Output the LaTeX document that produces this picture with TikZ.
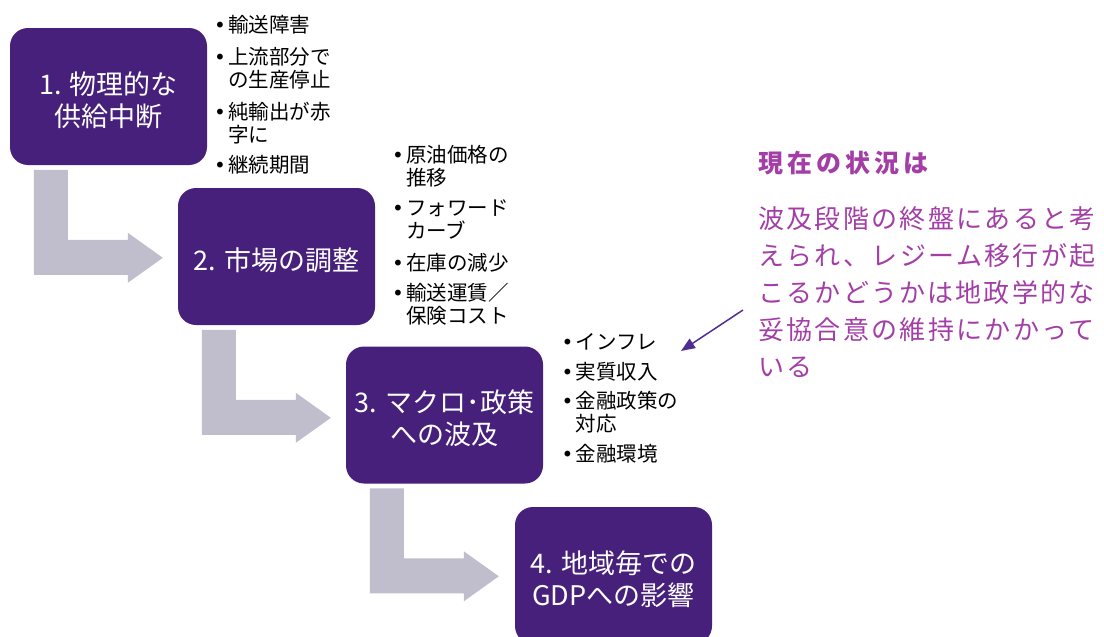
\documentclass[tikz,border=0pt]{standalone}
\usepackage{fontspec}
\setmainfont{Noto Sans CJK JP}
\newfontfamily\dejavu{DejaVu Sans}
\usetikzlibrary{arrows.meta}
\definecolor{boxpurple}{RGB}{70,32,122}
\definecolor{arrowgray}{RGB}{192,190,205}
\definecolor{notemag}{RGB}{163,62,167}
\definecolor{pointercol}{RGB}{80,45,145}
\newcommand{\bul}{\makebox[14pt][l]{\dejavu\fontsize{20}{20}\selectfont •}}
\newcommand{\ind}{\hspace*{14pt}}
\newcommand{\tallrule}{\rule{0pt}{30pt}}
\tikzset{
  stagebox/.style={fill=boxpurple, text=white, rounded corners=18pt,
    minimum width=197pt, minimum height=137pt, inner sep=0pt, align=center,
    font=\fontsize{27}{32}\selectfont},
  bulletlist/.style={anchor=north west, inner sep=0pt, align=left, text=black,
    font=\fontsize{20.5}{23}\selectfont},
  bentarrow/.style={fill=arrowgray, draw=none},
  notetext/.style={text=notemag, inner sep=0pt, align=left}
}
\begin{document}
\begin{tikzpicture}[x=1pt,y=-1pt]
\useasboundingbox (0,0) rectangle (1104,637);
\clip (0,0) rectangle (1104,637);

\node[stagebox] (b1) at (108.5,96.5) {\tallrule 1. 物理的な\\供給中断};
\node[stagebox] (b2) at (276.5,256.5) {\tallrule 2. 市場の調整};
\node[stagebox] (b3) at (444.5,415) {\tallrule 3. マクロ･政策\\への波及};
\node[stagebox] (b4) at (613.5,575.5) {\tallrule 4. 地域毎での\\GDPへの影響};

\foreach \b in {b1,b2,b3}{
  \begin{scope}[shift={(\b.north west)}]
    \fill[bentarrow] (24,142) -- (58,142) -- (58,212) -- (118,212) -- (118,205)
      -- (153,230) -- (118,255) -- (118,247) -- (24,247) -- cycle;
  \end{scope}
}

\node[bulletlist] (l1) at (214,15) {\bul 輸送障害\\[9pt]
  \bul 上流部分で\\ \ind の生産停止\\[9pt]
  \bul 純輸出が赤\\ \ind 字に\\[7pt]
  \bul 継続期間};
\node[bulletlist] (l2) at (392,145) {\bul 原油価格の\\ \ind 推移\\[7pt]
  \bul フォワード\\ \ind カーブ\\[9pt]
  \bul 在庫の減少\\[7pt]
  \bul 輸送運賃／\\ \ind 保険コスト};
\node[bulletlist] (l3) at (561.5,333) {\bul インフレ\\[7pt]
  \bul 実質収入\\[6pt]
  \bul 金融政策の\\ \ind 対応\\[7pt]
  \bul 金融環境};

\node[notetext, anchor=west, font=\fontsize{25}{28}\selectfont\bfseries\addfontfeatures{LetterSpace=16}] (title) at (758,163) {現在の状況は};
\node[notetext, anchor=north west, font=\fontsize{26}{37}\selectfont\addfontfeatures{LetterSpace=9}] (note) at (758,206)
  {波及段階の終盤にあると考\\えられ、レジーム移行が起\\こるかどうかは地政学的な\\妥協合意の維持にかかって\\いる};

\coordinate (ps) at (743,310);
\coordinate (pe) at (681,351);
\draw[pointercol, line width=1.5pt, -{Triangle[length=14pt,width=11pt]}] (ps) -- (pe);
\end{tikzpicture}
\end{document}
